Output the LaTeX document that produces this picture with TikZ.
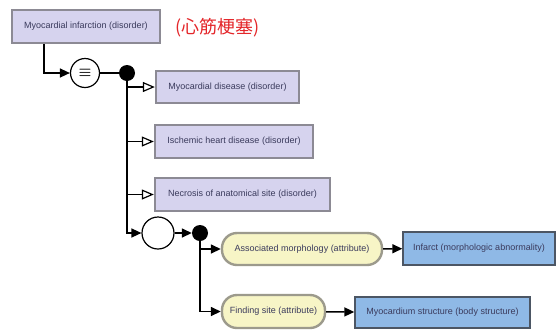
\documentclass[tikz,border=0pt]{standalone}
\usepackage{fontspec}
\setmainfont{Liberation Sans}
\newfontfamily\cjkfont{Noto Sans CJK JP}
\usetikzlibrary{arrows.meta}
\definecolor{conceptfill}{HTML}{D6D3EE}
\definecolor{conceptline}{HTML}{8C8A94}
\definecolor{attrfill}{HTML}{F7F5C6}
\definecolor{attrline}{HTML}{9C9A8C}
\definecolor{valuefill}{HTML}{8FB9E6}
\definecolor{valueline}{HTML}{4C5664}
\definecolor{labeltext}{HTML}{3A3A5C}
\definecolor{jpred}{HTML}{E4262A}
\tikzset{
  x=1pt, y=-1pt,
  boxtext/.style={font=\fontsize{9}{11}\selectfont, text=labeltext, inner sep=0pt},
  concept/.style={boxtext, draw=conceptline, fill=conceptfill, line width=2.4pt, rectangle},
  attr/.style={boxtext, draw=attrline, fill=attrfill, line width=2.4pt, rounded corners=15pt},
  valuebox/.style={boxtext, draw=valueline, fill=valuefill, line width=1.4pt},
  opcircle/.style={circle, draw=black, fill=white, line width=1.2pt, inner sep=0pt},
  junction/.style={circle, fill=black, inner sep=0pt, minimum size=16pt},
  link/.style={draw=black, line width=1.5pt},
  isa/.style={link, -{Triangle[open, length=12pt, width=10pt, line width=1.2pt]}},
  rel/.style={link, -{Triangle[length=10pt, width=9pt]}},
}
\begin{document}
\begin{tikzpicture}
\fill[white] (0,0) rectangle (559,330);
\useasboundingbox (0,0) rectangle (559,330);

% defined concept and its Japanese name
\node[concept, minimum width=148pt, minimum height=33pt] (top) at (86,26.5) {Myocardial infarction (disorder)};
\node[font=\cjkfont\fontsize{18}{20}\selectfont, text=jpred, anchor=west, inner sep=0pt] (jp) at (175,28) {(心筋梗塞)};

% definition status and grouping points
\node[opcircle, minimum size=29pt, font=\Large\boldmath] (eq) at (85,73) {$\equiv$};
\node[junction] (d1) at (127,73) {};
\node[opcircle, minimum size=32pt] (c2) at (158,233) {};
\node[junction] (d2) at (200,233) {};

% parent concepts
\node[concept, minimum width=143pt, minimum height=32pt] (my) at (227.5,87) {Myocardial disease (disorder)};
\node[concept, minimum width=158pt, minimum height=33pt] (isc) at (234,141.5) {Ischemic heart disease (disorder)};
\node[concept, minimum width=175pt, minimum height=33pt] (nec) at (242.5,194.5) {Necrosis of anatomical site (disorder)};

% attributes and their values
\node[attr, minimum width=160pt, minimum height=32pt] (am) at (302,249) {Associated morphology (attribute)};
\node[attr, minimum width=103pt, minimum height=33pt] (fs) at (273.5,311.5) {Finding site (attribute)};
\node[valuebox, minimum width=152pt, minimum height=33pt] (inf) at (479,248.5) {Infarct (morphologic abnormality)};
\node[valuebox, minimum width=175pt, minimum height=31pt] (myo) at (442.5,312.5) {Myocardium structure (body structure)};

% connectors
\draw[rel] ([xshift=33pt]top.south west) |- (eq);
\draw[link] (eq) -- (d1);
\draw[isa] (d1) |- (my.west);
\draw[isa] (d1) |- (isc.west);
\draw[isa] (d1) |- (nec.west);
\draw[rel] (d1) |- (c2);
\draw[rel] (c2) -- (d2);
\draw[rel] (d2) |- (am.west);
\draw[rel] (d2) |- (fs.west);
\draw[rel] (am) -- (inf);
\draw[rel] (fs) -- (myo);
\end{tikzpicture}
\end{document}
